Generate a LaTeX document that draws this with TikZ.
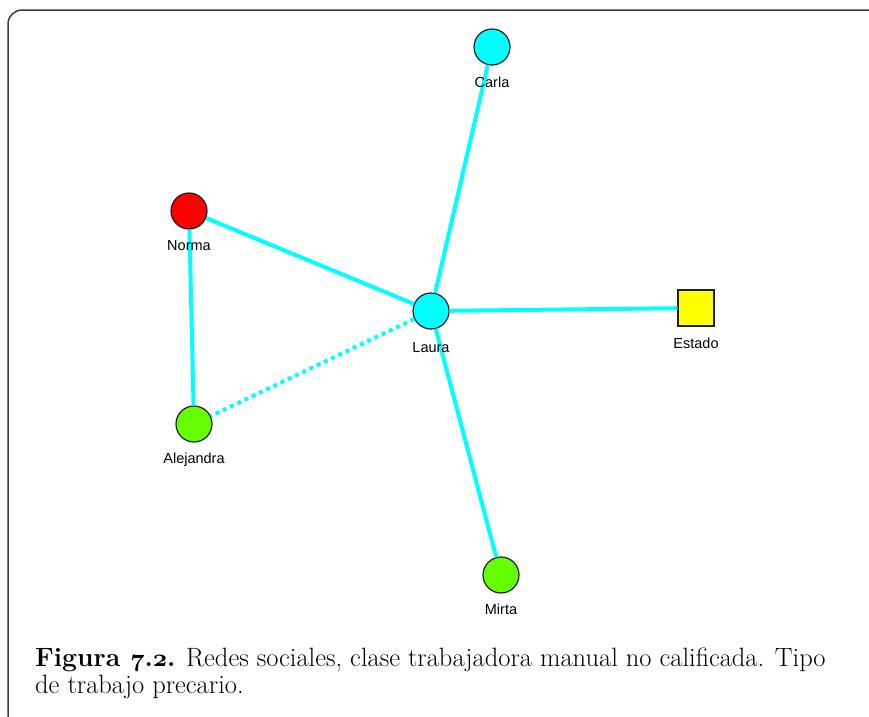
\documentclass[tikz,border=0pt]{standalone}
\usepackage{fontspec}
\newfontfamily\labelfont{Liberation Sans}
\usepackage{tikz}
\usetikzlibrary{positioning}
\usepackage{xcolor}
\definecolor{tiecyan}{RGB}{0,255,255}
\definecolor{nodered}{RGB}{255,0,0}
\definecolor{nodegreen}{RGB}{102,255,0}
\definecolor{nodeyellow}{RGB}{255,255,0}
\definecolor{nodeedge}{RGB}{30,30,40}
\definecolor{framegray}{RGB}{60,60,60}
\newcommand{\osnum}[1]{{\usefont{OML}{cmm}{b}{it}#1}}
\tikzstyle{persona} = [circle, minimum size=36pt, inner sep=0pt, draw=nodeedge, line width=1.2pt]
\tikzstyle{entidad} = [rectangle, minimum size=36pt, inner sep=0pt, draw=nodeedge, line width=1.2pt]
\tikzstyle{etiqueta} = [font=\labelfont\fontsize{14.5}{16}\selectfont, node distance=35pt]
\tikzstyle{tie} = [line width=4pt, color=tiecyan]

\begin{document}
\begin{tikzpicture}[x=1pt, y=-1pt]
\useasboundingbox (0,0) rectangle (869,716);
% Frame
\draw[framegray, line width=1.5pt, rounded corners=14pt] (8,10) rectangle (882,728);

% People
\node (carla) [persona, fill=tiecyan] at (492,47) {};
\node (norma) [persona, fill=nodered] at (189,211) {};
\node (laura) [persona, fill=tiecyan] at (431,311) {};
\node (estado) [entidad, fill=nodeyellow] at (696,308) {};
\node (alejandra) [persona, fill=nodegreen] at (194,424) {};
\node (mirta) [persona, fill=nodegreen] at (501,575) {};

% Ties
\draw[tie] (laura) -- (carla);
\draw[tie] (laura) -- (norma);
\draw[tie] (laura) -- (estado);
\draw[tie] (laura) -- (mirta);
\draw[tie] (norma) -- (alejandra);
\draw[tie, dash pattern=on 4pt off 4pt] (laura) -- (alejandra);

% Labels
\node (lcarla) [etiqueta, below of=carla] {Carla};
\node (lnorma) [etiqueta, below of=norma] {Norma};
\node (llaura) [etiqueta, below of=laura, node distance=37pt] {Laura};
\node (lestado) [etiqueta, below of=estado] {Estado};
\node (lalejandra) [etiqueta, below of=alejandra, node distance=36pt] {Alejandra};
\node (lmirta) [etiqueta, below of=mirta, node distance=34pt] {Mirta};

% Caption
\node (caption) [anchor=north west, inner sep=0pt, align=left, font=\fontsize{26.5}{27}\selectfont] at (35,648)
  {\textbf{Figura \osnum{7}.\osnum{2}.} Redes sociales, clase trabajadora manual no calificada. Tipo\\
   de trabajo precario.};
\end{tikzpicture}
\end{document}
